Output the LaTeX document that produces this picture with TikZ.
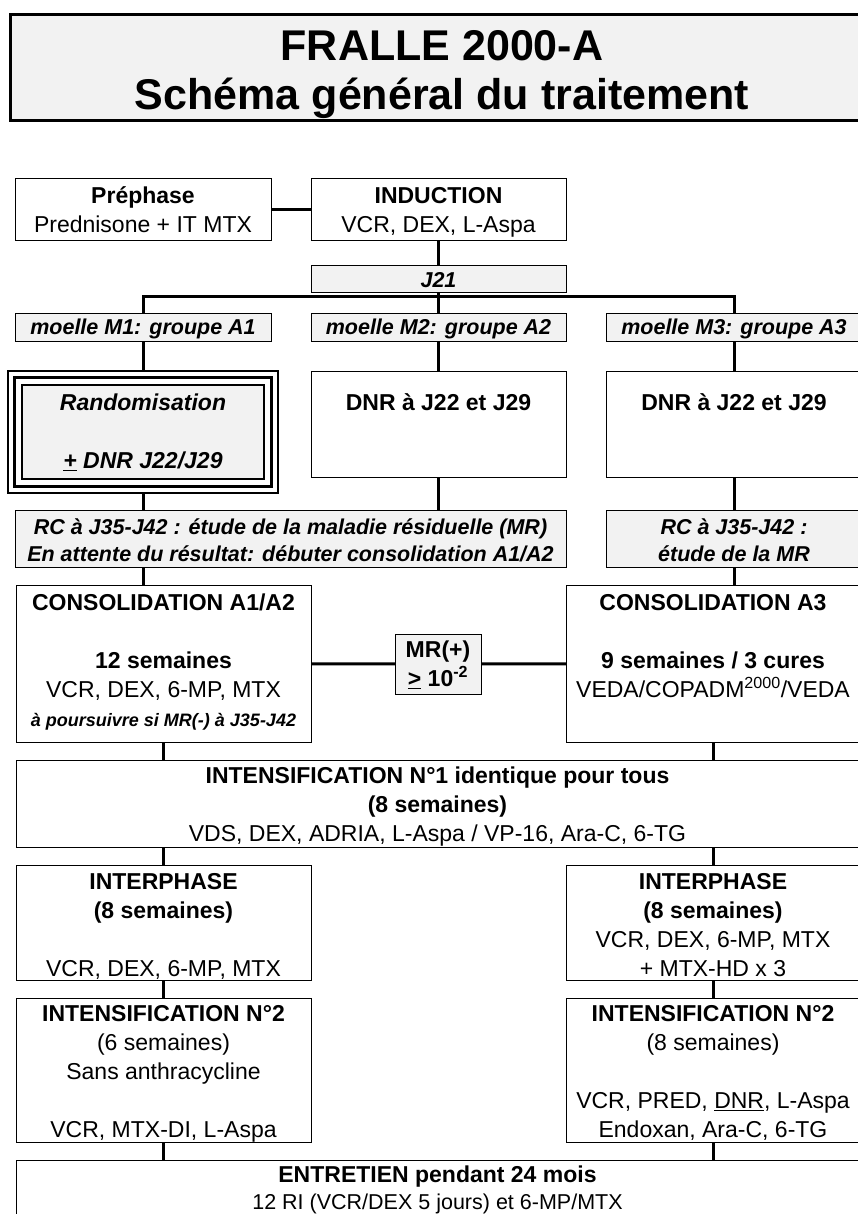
\documentclass[tikz,border=0pt]{standalone}
\usepackage{fontspec}
\setmainfont{Liberation Sans}
\usetikzlibrary{positioning,calc}
\definecolor{grisfond}{RGB}{242,242,242}
%% strut that fixes the top of a text block
\newcommand{\lnst}{\rule[-0.21\baselineskip]{0pt}{\baselineskip}}

\begin{document}
\begin{tikzpicture}[x=1pt, y=-1pt,
  every node/.style={inner sep=0pt, outer sep=0pt},
  %% plain box  \node[box={w}{h}]
  box/.style 2 args={
    draw, line width=1pt,
    minimum width=#1, minimum height=#2
  },
  %% grey box
  gbox/.style 2 args={box={#1}{#2}, fill=grisfond},
  %% text block hung from the top of its box
  txt/.style={anchor=north, align=center,
    font=\fontsize{23}{29}\selectfont},
  lab/.style={anchor=north, align=center,
    font=\fontsize{21.5}{27.5}\selectfont\bfseries\itshape},
  %% thick connectors
  link/.style={line width=3pt},
]
\useasboundingbox (0,0) rectangle (858,1214);
\clip (0,0) rectangle (858,1214);

%%── Title ────────────────────────────────────────────────────────────────────
\node[box={864}{106}, line width=3pt, fill=grisfond] (titre) at (442,68) {};
\node[txt, font=\fontsize{43}{48.5}\selectfont\bfseries,
      below=7.6pt of titre.north] (titre-t)
  {\lnst FRALLE 2000-A\\Schéma général du traitement};

%%══════════════════════════════════════════════════════════════════════════════
%%  INDUCTION
%%══════════════════════════════════════════════════════════════════════════════
\node[box={256}{62}] (preph) at (143,210) {};
\node[box={255}{62}] (induc) at (438.5,210) {};
\node[txt, below=1.8pt of preph.north] (preph-t)
  {\lnst\textbf{Préphase}\\Prednisone + IT MTX};
\node[txt, below=1.8pt of induc.north] (induc-t)
  {\lnst\textbf{INDUCTION}\\VCR, DEX, L-Aspa};

\node[gbox={255}{27}] (j21) at (438.5,279.5) {};
\node[lab, below=-0.5pt of j21.north] (j21-t) {\lnst J21};
\coordinate (bus) at ($(j21.south)+(0,4)$);

%%── three marrow groups ──────────────────────────────────────────────────────
\node[gbox={256}{28}] (m1) at (143,327) {};
\node[gbox={255}{28}] (m2) at (438.5,327) {};
\node[gbox={256}{28}] (m3) at (734,327) {};
\node[lab, below=0pt of m1.north] (m1-t) {\lnst moelle M1: groupe A1};
\node[lab, below=0pt of m2.north] (m2-t) {\lnst moelle M2: groupe A2};
\node[lab, below=0pt of m3.north] (m3-t) {\lnst moelle M3: groupe A3};

%% randomisation, triple frame
\node[draw, line width=1.7pt, minimum width=269.5, minimum height=121.8]
  (rando) at (143,432) {};
\node[draw, line width=3.5pt, minimum width=257.4, minimum height=109.2]
  (rando-m) at (rando) {};
\node[gbox={242.7}{93.5}, line width=2pt] (rando-i) at (rando) {};
\node[txt, font=\fontsize{23}{29}\selectfont\bfseries\itshape,
      below=2.7pt of rando-i.north] (rando-t)
  {\lnst Randomisation\\\lnst\\\underline{+} DNR J22/J29};

\node[box={255}{106}] (dnr2) at (438.5,424) {};
\node[box={256}{106}] (dnr3) at (734,424) {};
\node[txt, below=16.9pt of dnr2.north] (dnr2-t) {\lnst\textbf{DNR à J22 et J29}};
\node[txt, below=16.9pt of dnr3.north] (dnr3-t) {\lnst\textbf{DNR à J22 et J29}};

%%── complete remission ───────────────────────────────────────────────────────
\node[gbox={551}{57}] (rc12) at (290.5,538.5) {};
\node[gbox={256}{57}] (rc3) at (734,538.5) {};
\node[lab, below=2.5pt of rc12.north] (rc12-t)
  {\lnst RC à J35-J42 : étude de la maladie résiduelle (MR)\\
   En attente du résultat: débuter consolidation A1/A2};
\node[lab, below=2.5pt of rc3.north] (rc3-t)
  {\lnst RC à J35-J42 :\\étude de la MR};

%%══════════════════════════════════════════════════════════════════════════════
%%  CONSOLIDATION
%%══════════════════════════════════════════════════════════════════════════════
\node[box={295}{157.5}] (cons12) at (163.5,663.75) {};
\node[box={294}{157.5}] (cons3) at (713,663.75) {};
\node[gbox={86}{60}] (mr) at (438,664) {};

\node[txt, below=2.3pt of cons12.north] (cons12-t)
  {\lnst\textbf{CONSOLIDATION A1/A2}\\\lnst\\
   \textbf{12 semaines}\\VCR, DEX, 6-MP, MTX\\
   {\fontsize{18}{29}\selectfont\bfseries\itshape à poursuivre si MR(-) à J35-J42}};
\node[txt, below=2.3pt of cons3.north] (cons3-t)
  {\lnst\textbf{CONSOLIDATION A3}\\\lnst\\
   \textbf{9 semaines / 3 cures}\\VEDA/COPADM\textsuperscript{2000}/VEDA};
\node[txt, below=0.9pt of mr.north] (mr-t)
  {\lnst\textbf{MR(+)}\\\textbf{\underline{>} 10\textsuperscript{-2}}};

%%══════════════════════════════════════════════════════════════════════════════
%%  INTENSIFICATION / INTERPHASE / ENTRETIEN
%%══════════════════════════════════════════════════════════════════════════════
\node[box={843}{86.3}] (int1) at (437.5,803.85) {};
\node[txt, below=0pt of int1.north] (int1-t)
  {\lnst\textbf{INTENSIFICATION N°1 identique pour tous}\\
   \textbf{(8 semaines)}\\
   VDS, DEX, ADRIA, L-Aspa / VP-16, Ara-C, 6-TG};

\node[box={295}{115.6}] (interL) at (163.5,922.8) {};
\node[box={294}{115.6}] (interR) at (713,922.8) {};
\node[txt, below=1.3pt of interL.north] (interL-t)
  {\lnst\textbf{INTERPHASE}\\\textbf{(8 semaines)}\\\lnst\\VCR, DEX, 6-MP, MTX};
\node[txt, below=1.3pt of interR.north] (interR-t)
  {\lnst\textbf{INTERPHASE}\\\textbf{(8 semaines)}\\VCR, DEX, 6-MP, MTX\\+ MTX-HD x 3};

\node[box={295}{143.6}] (int2L) at (163.5,1070.6) {};
\node[box={294}{143.6}] (int2R) at (713,1070.6) {};
\node[txt, below=0pt of int2L.north] (int2L-t)
  {\lnst\textbf{INTENSIFICATION N°2}\\(6 semaines)\\Sans anthracycline\\\lnst\\
   VCR, MTX-DI, L-Aspa};
\node[txt, below=0pt of int2R.north] (int2R-t)
  {\lnst\textbf{INTENSIFICATION N°2}\\(8 semaines)\\\lnst\\
   VCR, PRED, \underline{DNR}, L-Aspa\\Endoxan, Ara-C, 6-TG};

\node[box={843}{101.4}] (entr) at (437.5,1211.3) {};
\node[txt, font=\fontsize{23}{26.5}\selectfont,
      below=1.2pt of entr.north] (entr-t)
  {\lnst\textbf{ENTRETIEN pendant 24 mois}\\
   {\fontsize{21.5}{26.5}\selectfont 12 RI (VCR/DEX 5 jours) et 6-MP/MTX}};

%%── Connectors ───────────────────────────────────────────────────────────────
\draw[link] (preph) -- (induc);
\draw[link] (induc) -- (j21);
\draw[link] (j21) -- (m2);
\draw[link] (m1.north) |- (bus) -| (m3.north);

\draw[link] (m1) -- (rando);
\draw[link] (m2) -- (dnr2);
\draw[link] (m3) -- (dnr3);

\draw[link] (rando) -- (rando |- rc12.north);
\draw[link] (dnr2) -- (dnr2 |- rc12.north);
\draw[link] (dnr3) -- (rc3);

\draw[link] (rando |- rc12.south) -- (rando |- cons12.north);
\draw[link] (rc3) -- (rc3 |- cons3.north);

\draw[link] (cons12) -- (mr);
\draw[link] (mr) -- (cons3);

\draw[link] (cons12) -- (cons12 |- int1.north);
\draw[link] (cons3) -- (cons3 |- int1.north);
\draw[link] (interL |- int1.south) -- (interL);
\draw[link] (interR |- int1.south) -- (interR);
\draw[link] (interL) -- (int2L);
\draw[link] (interR) -- (int2R);
\draw[link] (int2L) -- (int2L |- entr.north);
\draw[link] (int2R) -- (int2R |- entr.north);

\end{tikzpicture}
\end{document}
